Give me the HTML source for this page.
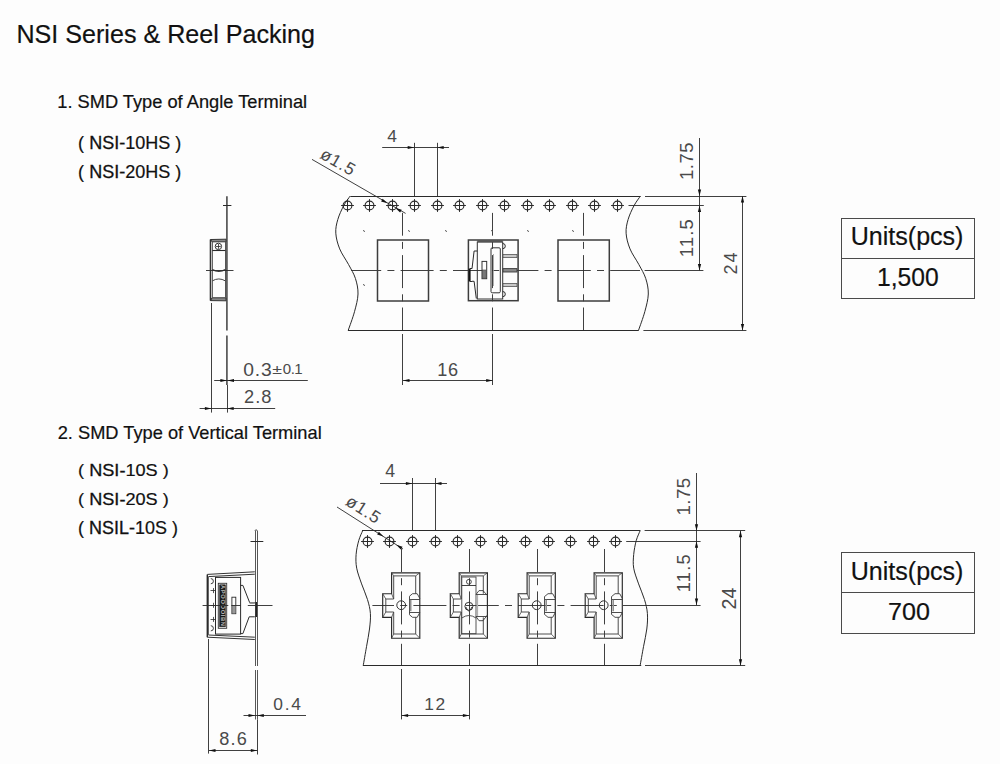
<!DOCTYPE html>
<html><head><meta charset="utf-8"><style>
html,body{margin:0;padding:0;background:#fdfdfd;width:1000px;height:764px;overflow:hidden}
svg{display:block}
text{font-family:"Liberation Sans",sans-serif}
</style></head><body>
<svg width="1000" height="764" viewBox="0 0 1000 764">
<rect width="1000" height="764" fill="#fdfdfd"/>
<text transform="translate(16.49,42.50) scale(0.9624,1)" font-size="26.09" fill="#111" stroke="#111" stroke-width="0.2">NSI Series &amp; Reel Packing</text>
<text transform="translate(57.23,107.90) scale(0.9999,1)" font-size="18.26" fill="#111" stroke="#111" stroke-width="0.2">1. SMD Type of Angle Terminal</text>
<text transform="translate(78.12,148.90) scale(1.0036,1)" font-size="17.97" fill="#111" stroke="#111" stroke-width="0.2">( <tspan stroke="#111" stroke-width="0.3">NSI-</tspan>10HS )</text>
<text transform="translate(78.12,177.60) scale(1.0036,1)" font-size="17.97" fill="#111" stroke="#111" stroke-width="0.2">( <tspan stroke="#111" stroke-width="0.3">NSI-</tspan>20HS )</text>
<text transform="translate(57.69,439.00) scale(0.9846,1)" font-size="18.55" fill="#111" stroke="#111" stroke-width="0.2">2. SMD Type of Vertical Terminal</text>
<text transform="translate(78.11,475.70) scale(1.0428,1)" font-size="17.39" fill="#111" stroke="#111" stroke-width="0.2">( <tspan stroke="#111" stroke-width="0.3">NSI-</tspan>10S )</text>
<text transform="translate(78.11,505.00) scale(1.0428,1)" font-size="17.39" fill="#111" stroke="#111" stroke-width="0.2">( <tspan stroke="#111" stroke-width="0.3">NSI-</tspan>20S )</text>
<text transform="translate(78.12,533.80) scale(1.0240,1)" font-size="17.54" fill="#111" stroke="#111" stroke-width="0.2">( <tspan stroke="#111" stroke-width="0.3">NSIL-</tspan>10S )</text>
<rect x="841.50" y="218.50" width="133.00" height="80.00" stroke="#4a4a4a" stroke-width="1.0" fill="none"/>
<line x1="841.20" y1="258.50" x2="974.20" y2="258.50" stroke="#4a4a4a" stroke-width="1.0"/>
<text transform="translate(850.72,245.40) scale(0.9715,1)" font-size="25.80" fill="#111" stroke="#111" stroke-width="0.2">Units(pcs)</text>
<text transform="translate(876.95,286.40) scale(0.9245,1)" font-size="26.67" fill="#111" stroke="#111" stroke-width="0.2">1,500</text>
<rect x="841.50" y="552.50" width="133.00" height="81.00" stroke="#4a4a4a" stroke-width="1.0" fill="none"/>
<line x1="841.20" y1="592.50" x2="974.20" y2="592.50" stroke="#4a4a4a" stroke-width="1.0"/>
<text transform="translate(850.72,579.90) scale(0.9715,1)" font-size="25.80" fill="#111" stroke="#111" stroke-width="0.2">Units(pcs)</text>
<text transform="translate(888.04,619.60) scale(1.0709,1)" font-size="23.48" fill="#111" stroke="#111" stroke-width="0.2">700</text>
<line x1="226.90" y1="196.30" x2="226.90" y2="330.50" stroke="#555" stroke-width="1.7"/>
<line x1="226.90" y1="335.60" x2="226.90" y2="385.00" stroke="#555" stroke-width="1.7"/>
<line x1="227.50" y1="385.00" x2="227.50" y2="412.60" stroke="#2a2a2a" stroke-width="0.9"/>
<line x1="223.00" y1="205.50" x2="231.40" y2="205.50" stroke="#2a2a2a" stroke-width="1"/>
<path d="M210.5,239.5 L226,239.2 L226,241.8 L212,241.8 Z" stroke="#333" stroke-width="1" fill="#888" />
<path d="M210.5,300.6 L226,300.8 L226,297.8 L212,297.8 Z" stroke="#333" stroke-width="1" fill="#888" />
<line x1="210.50" y1="239.50" x2="210.50" y2="300.60" stroke="#333" stroke-width="1.6"/>
<line x1="212.50" y1="241.80" x2="212.50" y2="297.80" stroke="#555" stroke-width="0.9"/>
<line x1="225.50" y1="241.80" x2="225.50" y2="297.80" stroke="#555" stroke-width="1.0"/>
<line x1="212.30" y1="250.50" x2="225.40" y2="250.50" stroke="#2a2a2a" stroke-width="1.1"/>
<circle cx="218.4" cy="246.4" r="3.2" stroke="#333" stroke-width="1" fill="none"/>
<line x1="218.50" y1="244.00" x2="218.50" y2="248.80" stroke="#2a2a2a" stroke-width="0.8"/>
<line x1="216.00" y1="246.50" x2="220.80" y2="246.50" stroke="#2a2a2a" stroke-width="0.8"/>
<path d="M212.3,269.6 Q218.8,273 225.4,269.6" stroke="#333" stroke-width="1.4" fill="none" />
<path d="M212.3,280.9 Q218.8,277 225.4,280.9" stroke="#444" stroke-width="1.0" fill="none" />
<line x1="206.00" y1="270.50" x2="233.50" y2="270.50" stroke="#2a2a2a" stroke-width="0.9"/>
<line x1="211.50" y1="303.00" x2="211.50" y2="412.60" stroke="#2a2a2a" stroke-width="0.9"/>
<line x1="214.20" y1="380.50" x2="307.80" y2="380.50" stroke="#2a2a2a" stroke-width="0.9"/>
<polygon points="226.90,380.50 220.40,382.10 220.40,378.90" fill="#111"/>
<polygon points="227.50,380.50 234.00,378.90 234.00,382.10" fill="#111"/>
<line x1="199.60" y1="408.50" x2="275.20" y2="408.50" stroke="#2a2a2a" stroke-width="0.9"/>
<polygon points="211.40,408.50 204.90,410.10 204.90,406.90" fill="#111"/>
<polygon points="227.20,408.50 233.70,406.90 233.70,410.10" fill="#111"/>
<text x="243.33" y="375.90" font-size="19.28" letter-spacing="0.77" fill="#4a4a4a">0.3</text>
<text transform="translate(272.37,374.40) scale(1.3967,1)" font-size="12.71" fill="#4a4a4a" stroke="#4a4a4a" stroke-width="0">±</text>
<text x="282.80" y="374.40" font-size="15.07" letter-spacing="-0.50" fill="#4a4a4a">0.1</text>
<text x="243.89" y="402.90" font-size="18.26" letter-spacing="1.13" fill="#4a4a4a">2.8</text>
<line x1="350.40" y1="196.50" x2="640.50" y2="196.50" stroke="#2a2a2a" stroke-width="1.0"/>
<line x1="348.00" y1="330.50" x2="638.70" y2="330.50" stroke="#2a2a2a" stroke-width="1.0"/>
<path d="M350.10,196.10 C349.03,197.70 345.75,201.80 343.70,205.70 C341.65,209.60 339.12,214.92 337.80,219.50 C336.48,224.08 335.48,228.30 335.80,233.20 C336.12,238.10 337.57,243.67 339.70,248.90 C341.83,254.13 345.98,259.68 348.60,264.60 C351.22,269.52 353.83,273.50 355.40,278.40 C356.97,283.30 358.15,288.45 358.00,294.00 C357.85,299.55 356.13,305.63 354.50,311.70 C352.87,317.77 349.25,327.28 348.20,330.40" stroke="#2a2a2a" stroke-width="1.0" fill="none" />
<path d="M640.40,196.10 C639.33,197.70 636.05,201.80 634.00,205.70 C631.95,209.60 629.42,214.92 628.10,219.50 C626.78,224.08 625.78,228.30 626.10,233.20 C626.42,238.10 627.87,243.67 630.00,248.90 C632.13,254.13 636.28,259.68 638.90,264.60 C641.52,269.52 644.13,273.50 645.70,278.40 C647.27,283.30 648.45,288.45 648.30,294.00 C648.15,299.55 646.43,305.63 644.80,311.70 C643.17,317.77 639.55,327.28 638.50,330.40" stroke="#2a2a2a" stroke-width="1.0" fill="none" />
<circle cx="347.50" cy="205.50" r="4.4" stroke="#2a2a2a" stroke-width="1.1" fill="none"/>
<line x1="341.10" y1="205.50" x2="353.90" y2="205.50" stroke="#2a2a2a" stroke-width="1.0"/>
<line x1="347.50" y1="199.10" x2="347.50" y2="211.90" stroke="#2a2a2a" stroke-width="1.0"/>
<circle cx="369.50" cy="205.50" r="4.4" stroke="#2a2a2a" stroke-width="1.1" fill="none"/>
<line x1="363.10" y1="205.50" x2="375.90" y2="205.50" stroke="#2a2a2a" stroke-width="1.0"/>
<line x1="369.50" y1="199.10" x2="369.50" y2="211.90" stroke="#2a2a2a" stroke-width="1.0"/>
<circle cx="392.50" cy="205.50" r="4.4" stroke="#2a2a2a" stroke-width="1.1" fill="none"/>
<line x1="386.10" y1="205.50" x2="398.90" y2="205.50" stroke="#2a2a2a" stroke-width="1.0"/>
<line x1="392.50" y1="199.10" x2="392.50" y2="211.90" stroke="#2a2a2a" stroke-width="1.0"/>
<circle cx="414.50" cy="205.50" r="4.4" stroke="#2a2a2a" stroke-width="1.1" fill="none"/>
<line x1="408.10" y1="205.50" x2="420.90" y2="205.50" stroke="#2a2a2a" stroke-width="1.0"/>
<line x1="414.50" y1="199.10" x2="414.50" y2="211.90" stroke="#2a2a2a" stroke-width="1.0"/>
<circle cx="437.50" cy="205.50" r="4.4" stroke="#2a2a2a" stroke-width="1.1" fill="none"/>
<line x1="431.10" y1="205.50" x2="443.90" y2="205.50" stroke="#2a2a2a" stroke-width="1.0"/>
<line x1="437.50" y1="199.10" x2="437.50" y2="211.90" stroke="#2a2a2a" stroke-width="1.0"/>
<circle cx="459.50" cy="205.50" r="4.4" stroke="#2a2a2a" stroke-width="1.1" fill="none"/>
<line x1="453.10" y1="205.50" x2="465.90" y2="205.50" stroke="#2a2a2a" stroke-width="1.0"/>
<line x1="459.50" y1="199.10" x2="459.50" y2="211.90" stroke="#2a2a2a" stroke-width="1.0"/>
<circle cx="482.50" cy="205.50" r="4.4" stroke="#2a2a2a" stroke-width="1.1" fill="none"/>
<line x1="476.10" y1="205.50" x2="488.90" y2="205.50" stroke="#2a2a2a" stroke-width="1.0"/>
<line x1="482.50" y1="199.10" x2="482.50" y2="211.90" stroke="#2a2a2a" stroke-width="1.0"/>
<circle cx="504.50" cy="205.50" r="4.4" stroke="#2a2a2a" stroke-width="1.1" fill="none"/>
<line x1="498.10" y1="205.50" x2="510.90" y2="205.50" stroke="#2a2a2a" stroke-width="1.0"/>
<line x1="504.50" y1="199.10" x2="504.50" y2="211.90" stroke="#2a2a2a" stroke-width="1.0"/>
<circle cx="527.50" cy="205.50" r="4.4" stroke="#2a2a2a" stroke-width="1.1" fill="none"/>
<line x1="521.10" y1="205.50" x2="533.90" y2="205.50" stroke="#2a2a2a" stroke-width="1.0"/>
<line x1="527.50" y1="199.10" x2="527.50" y2="211.90" stroke="#2a2a2a" stroke-width="1.0"/>
<circle cx="549.50" cy="205.50" r="4.4" stroke="#2a2a2a" stroke-width="1.1" fill="none"/>
<line x1="543.10" y1="205.50" x2="555.90" y2="205.50" stroke="#2a2a2a" stroke-width="1.0"/>
<line x1="549.50" y1="199.10" x2="549.50" y2="211.90" stroke="#2a2a2a" stroke-width="1.0"/>
<circle cx="572.50" cy="205.50" r="4.4" stroke="#2a2a2a" stroke-width="1.1" fill="none"/>
<line x1="566.10" y1="205.50" x2="578.90" y2="205.50" stroke="#2a2a2a" stroke-width="1.0"/>
<line x1="572.50" y1="199.10" x2="572.50" y2="211.90" stroke="#2a2a2a" stroke-width="1.0"/>
<circle cx="594.50" cy="205.50" r="4.4" stroke="#2a2a2a" stroke-width="1.1" fill="none"/>
<line x1="588.10" y1="205.50" x2="600.90" y2="205.50" stroke="#2a2a2a" stroke-width="1.0"/>
<line x1="594.50" y1="199.10" x2="594.50" y2="211.90" stroke="#2a2a2a" stroke-width="1.0"/>
<circle cx="617.50" cy="205.50" r="4.4" stroke="#2a2a2a" stroke-width="1.1" fill="none"/>
<line x1="611.10" y1="205.50" x2="623.90" y2="205.50" stroke="#2a2a2a" stroke-width="1.0"/>
<line x1="617.50" y1="199.10" x2="617.50" y2="211.90" stroke="#2a2a2a" stroke-width="1.0"/>
<line x1="628.50" y1="205.50" x2="703.80" y2="205.50" stroke="#2a2a2a" stroke-width="0.9"/>
<line x1="645.00" y1="196.50" x2="746.40" y2="196.50" stroke="#2a2a2a" stroke-width="0.9"/>
<line x1="643.40" y1="330.50" x2="746.40" y2="330.50" stroke="#2a2a2a" stroke-width="0.9"/>
<line x1="351.2" y1="270.5" x2="640" y2="270.5" stroke="#2a2a2a" stroke-width="0.9" stroke-dasharray="33 6.2 7 6.2" stroke-dashoffset="3"/>
<line x1="644.60" y1="270.50" x2="703.40" y2="270.50" stroke="#2a2a2a" stroke-width="0.9"/>
<line x1="402.5" y1="212.9" x2="402.5" y2="330.4" stroke="#2a2a2a" stroke-width="0.9" stroke-dasharray="33 6.2 7 6.2" stroke-dashoffset="10.2"/>
<line x1="402.50" y1="334.00" x2="402.50" y2="385.00" stroke="#2a2a2a" stroke-width="0.9"/>
<line x1="492.5" y1="212.9" x2="492.5" y2="330.4" stroke="#2a2a2a" stroke-width="0.9" stroke-dasharray="33 6.2 7 6.2" stroke-dashoffset="10.2"/>
<line x1="492.50" y1="334.00" x2="492.50" y2="385.00" stroke="#2a2a2a" stroke-width="0.9"/>
<line x1="583.5" y1="212.9" x2="583.5" y2="330.4" stroke="#2a2a2a" stroke-width="0.9" stroke-dasharray="33 6.2 7 6.2" stroke-dashoffset="10.2"/>
<rect x="377.50" y="240.00" width="51.00" height="61.00" stroke="#3d3d3d" stroke-width="1.5" fill="none"/>
<rect x="558.00" y="240.00" width="51.30" height="61.00" stroke="#3d3d3d" stroke-width="1.5" fill="none"/>
<rect x="468.40" y="240.00" width="49.70" height="60.70" stroke="#3d3d3d" stroke-width="1.5" fill="none"/>
<rect x="477.30" y="242.00" width="25.40" height="57.00" stroke="#333" stroke-width="1.0" fill="none"/>
<line x1="477.30" y1="241.20" x2="502.70" y2="241.20" stroke="#555" stroke-width="2.2"/>
<rect x="491" y="247.8" width="9.3" height="45" rx="1.2" stroke="#333" stroke-width="1" fill="none"/>
<line x1="493.50" y1="254.00" x2="493.50" y2="286.00" stroke="#999" stroke-width="0.8"/>
<rect x="482.00" y="261.40" width="4.70" height="17.30" stroke="#333" stroke-width="1.0" fill="none"/>
<rect x="482.50" y="270.00" width="3.70" height="8.20" stroke="#444" stroke-width="0.6" fill="#777"/>
<rect x="503.00" y="254.40" width="14.00" height="3.20" stroke="#555" stroke-width="0.8" fill="#c8c8c8"/>
<rect x="503.00" y="283.40" width="14.00" height="3.20" stroke="#555" stroke-width="0.8" fill="#c8c8c8"/>
<rect x="503.00" y="268.60" width="14.00" height="3.40" stroke="#3a3a3a" stroke-width="0.9" fill="#8a8a8a"/>
<path d="M502.7,243.5 A2.6,2.6 0 0 1 502.7,248.7" stroke="#2a2a2a" stroke-width="1.0" fill="none" />
<path d="M502.7,291.5 A2.6,2.6 0 0 1 502.7,296.7" stroke="#2a2a2a" stroke-width="1.0" fill="none" />
<path d="M477.3,251 L474.1,251 L472,268.7" stroke="#2a2a2a" stroke-width="1.0" fill="none" />
<path d="M472,281.3 L474.1,281.3 L476.3,298.5" stroke="#2a2a2a" stroke-width="1.0" fill="none" />
<line x1="469.60" y1="268.70" x2="469.60" y2="281.30" stroke="#111" stroke-width="2.0"/>
<line x1="469.60" y1="268.50" x2="472.00" y2="268.50" stroke="#2a2a2a" stroke-width="1"/>
<line x1="469.60" y1="281.50" x2="472.00" y2="281.50" stroke="#2a2a2a" stroke-width="1"/>
<line x1="363.00" y1="230.40" x2="365.00" y2="231.60" stroke="#555" stroke-width="1.0"/>
<line x1="408.00" y1="230.40" x2="410.00" y2="231.60" stroke="#555" stroke-width="1.0"/>
<line x1="445.00" y1="230.40" x2="447.00" y2="231.60" stroke="#555" stroke-width="1.0"/>
<line x1="491.00" y1="230.40" x2="493.00" y2="231.60" stroke="#555" stroke-width="1.0"/>
<line x1="527.00" y1="230.40" x2="529.00" y2="231.60" stroke="#555" stroke-width="1.0"/>
<line x1="572.00" y1="230.40" x2="574.00" y2="231.60" stroke="#555" stroke-width="1.0"/>
<line x1="363.00" y1="284.40" x2="365.00" y2="285.60" stroke="#555" stroke-width="1.0"/>
<line x1="382.20" y1="147.50" x2="449.00" y2="147.50" stroke="#2a2a2a" stroke-width="0.9"/>
<line x1="414.50" y1="142.80" x2="414.50" y2="196.10" stroke="#2a2a2a" stroke-width="0.9"/>
<line x1="437.50" y1="142.80" x2="437.50" y2="196.10" stroke="#2a2a2a" stroke-width="0.9"/>
<polygon points="414.20,147.50 407.70,149.10 407.70,145.90" fill="#111"/>
<polygon points="437.20,147.50 443.70,145.90 443.70,149.10" fill="#111"/>
<text x="387.37" y="141.60" font-size="17.39" letter-spacing="0.00" fill="#4a4a4a">4</text>
<line x1="312.00" y1="159.40" x2="405.60" y2="213.40" stroke="#2a2a2a" stroke-width="0.9"/>
<polygon points="387.50,203.30 381.07,201.44 382.67,198.66" fill="#111"/>
<polygon points="395.30,207.90 401.73,209.76 400.13,212.54" fill="#111"/>
<text transform="translate(318.9,157.6) rotate(30)" font-size="17.2" letter-spacing="0.9" fill="#4a4a4a">ø1.5</text>
<line x1="403.00" y1="380.50" x2="492.70" y2="380.50" stroke="#2a2a2a" stroke-width="0.9"/>
<polygon points="403.00,380.50 409.50,378.90 409.50,382.10" fill="#111"/>
<polygon points="492.70,380.50 486.20,382.10 486.20,378.90" fill="#111"/>
<text x="437.14" y="375.50" font-size="18.12" letter-spacing="0.87" fill="#4a4a4a">16</text>
<line x1="699.50" y1="138.00" x2="699.50" y2="270.50" stroke="#2a2a2a" stroke-width="0.9"/>
<polygon points="699.50,196.10 697.90,189.60 701.10,189.60" fill="#111"/>
<polygon points="699.50,205.60 701.10,212.10 697.90,212.10" fill="#111"/>
<polygon points="699.50,270.50 697.90,264.00 701.10,264.00" fill="#111"/>
<line x1="742.50" y1="196.10" x2="742.50" y2="330.40" stroke="#2a2a2a" stroke-width="0.9"/>
<polygon points="742.50,196.10 744.10,202.60 740.90,202.60" fill="#111"/>
<polygon points="742.50,330.40 740.90,323.90 744.10,323.90" fill="#111"/>
<text transform="translate(693.40,179.89) rotate(-90)" x="0" y="0" font-size="18.55" letter-spacing="0.45" fill="#4a4a4a">1.75</text>
<text transform="translate(693.40,257.19) rotate(-90)" x="0" y="0" font-size="18.55" letter-spacing="1.08" fill="#4a4a4a">11.5</text>
<text transform="translate(736.50,274.60) rotate(-90)" x="0" y="0" font-size="17.97" letter-spacing="2.19" fill="#4a4a4a">24</text>
<line x1="255.50" y1="531.00" x2="255.50" y2="666.00" stroke="#444" stroke-width="0.9"/>
<line x1="257.50" y1="531.00" x2="257.50" y2="666.00" stroke="#444" stroke-width="0.9"/>
<path d="M255,531 A1.15,1.15 0 0 1 257.3,531" stroke="#444" stroke-width="0.9" fill="none"/>
<line x1="255.50" y1="670.00" x2="255.50" y2="719.50" stroke="#444" stroke-width="0.9"/>
<line x1="257.50" y1="670.00" x2="257.50" y2="719.50" stroke="#444" stroke-width="0.9"/>
<line x1="257.50" y1="719.50" x2="257.50" y2="754.50" stroke="#2a2a2a" stroke-width="0.9"/>
<line x1="250.50" y1="541.50" x2="263.30" y2="541.50" stroke="#2a2a2a" stroke-width="1"/>
<path d="M207.3,574.4 L254.8,571.8 M208.5,576.6 L254.8,574.2" stroke="#333" stroke-width="1.0" fill="none" />
<path d="M207.3,637.2 L254.8,639.5 M208.5,635 L254.8,637.2" stroke="#333" stroke-width="1.0" fill="none" />
<line x1="207.30" y1="574.40" x2="207.30" y2="637.20" stroke="#2a2a2a" stroke-width="1.4"/>
<line x1="208.50" y1="576.60" x2="208.50" y2="635.00" stroke="#555" stroke-width="0.9"/>
<rect x="215.50" y="577.40" width="25.10" height="56.70" stroke="#2a2a2a" stroke-width="1.0" fill="none"/>
<path d="M210.8,578.6 A2.6,2.6 0 0 1 210.8,583.8000000000001" stroke="#2a2a2a" stroke-width="0.9" fill="none" />
<path d="M210.8,625.6999999999999 A2.6,2.6 0 0 1 210.8,630.9" stroke="#2a2a2a" stroke-width="0.9" fill="none" />
<line x1="210.50" y1="590.50" x2="215.50" y2="590.50" stroke="#2a2a2a" stroke-width="0.8"/>
<line x1="213.50" y1="588.10" x2="213.50" y2="593.10" stroke="#2a2a2a" stroke-width="0.8"/>
<line x1="210.50" y1="605.50" x2="215.50" y2="605.50" stroke="#2a2a2a" stroke-width="0.8"/>
<line x1="213.50" y1="602.80" x2="213.50" y2="607.80" stroke="#2a2a2a" stroke-width="0.8"/>
<line x1="210.50" y1="619.50" x2="215.50" y2="619.50" stroke="#2a2a2a" stroke-width="0.8"/>
<line x1="213.50" y1="616.90" x2="213.50" y2="621.90" stroke="#2a2a2a" stroke-width="0.8"/>
<rect x="218.30" y="583.30" width="8.40" height="45.00" stroke="#333" stroke-width="0.9" fill="none"/>
<rect x="219.70" y="584.80" width="5.60" height="42.00" stroke="#222" stroke-width="0.6" fill="#1a1a1a"/>
<text transform="translate(220.6,605.8) rotate(90)" font-size="5.8" fill="#bbb" text-anchor="middle" letter-spacing="0.6" font-weight="bold">APOOOOIBN</text>
<rect x="231.90" y="597.20" width="3.90" height="16.50" stroke="#2a2a2a" stroke-width="0.9" fill="none"/>
<rect x="232.30" y="605.50" width="3.10" height="7.80" stroke="#666" stroke-width="0.5" fill="#999"/>
<path d="M240.6,585.4 L242.9,585.4 L249.7,602.7 L254.8,602.7" stroke="#2a2a2a" stroke-width="1.0" fill="none" />
<path d="M254.8,616.8 L249.2,616.8 L242.9,633.6 L240.6,633.6" stroke="#2a2a2a" stroke-width="1.0" fill="none" />
<line x1="249.70" y1="602.90" x2="254.80" y2="602.90" stroke="#888" stroke-width="1.8"/>
<line x1="256.20" y1="602.00" x2="256.20" y2="617.00" stroke="#222" stroke-width="1.6"/>
<line x1="202.6" y1="605.5" x2="272.5" y2="605.5" stroke="#2a2a2a" stroke-width="0.9" stroke-dasharray="25.7 3 9.5 7" />
<line x1="208.50" y1="639.00" x2="208.50" y2="753.60" stroke="#2a2a2a" stroke-width="0.9"/>
<line x1="243.50" y1="715.50" x2="306.00" y2="715.50" stroke="#2a2a2a" stroke-width="0.9"/>
<polygon points="255.00,715.50 248.50,717.10 248.50,713.90" fill="#111"/>
<polygon points="257.30,715.50 263.80,713.90 263.80,717.10" fill="#111"/>
<text x="273.30" y="710.00" font-size="17.39" letter-spacing="1.77" fill="#4a4a4a">0.4</text>
<line x1="209.00" y1="750.50" x2="257.30" y2="750.50" stroke="#2a2a2a" stroke-width="0.9"/>
<polygon points="209.00,750.50 215.50,748.90 215.50,752.10" fill="#111"/>
<polygon points="257.30,750.50 250.80,752.10 250.80,748.90" fill="#111"/>
<text x="219.18" y="745.00" font-size="18.12" letter-spacing="1.22" fill="#4a4a4a">8.6</text>
<line x1="362.00" y1="530.50" x2="640.40" y2="530.50" stroke="#2a2a2a" stroke-width="1.0"/>
<line x1="363.00" y1="665.50" x2="641.20" y2="665.50" stroke="#2a2a2a" stroke-width="1.0"/>
<path d="M362.60,530.80 C361.95,532.45 359.78,536.75 358.70,540.70 C357.62,544.65 356.43,549.92 356.10,554.50 C355.77,559.08 355.78,563.30 356.70,568.20 C357.62,573.10 359.80,578.67 361.60,583.90 C363.40,589.13 366.03,594.68 367.50,599.60 C368.97,604.52 370.07,608.50 370.40,613.40 C370.73,618.30 370.15,623.45 369.50,629.00 C368.85,634.55 367.55,640.58 366.50,646.70 C365.45,652.82 363.75,662.53 363.20,665.70" stroke="#2a2a2a" stroke-width="1.0" fill="none" />
<path d="M640.10,530.80 C639.45,532.45 637.27,536.75 636.20,540.70 C635.13,544.65 634.12,549.92 633.70,554.50 C633.28,559.08 632.88,563.30 633.70,568.20 C634.52,573.10 636.80,578.67 638.60,583.90 C640.40,589.13 643.03,594.68 644.50,599.60 C645.97,604.52 647.02,608.50 647.40,613.40 C647.78,618.30 647.45,623.45 646.80,629.00 C646.15,634.55 644.62,640.58 643.50,646.70 C642.38,652.82 640.67,662.53 640.10,665.70" stroke="#2a2a2a" stroke-width="1.0" fill="none" />
<circle cx="367.50" cy="541.50" r="4.4" stroke="#2a2a2a" stroke-width="1.1" fill="none"/>
<line x1="361.10" y1="541.50" x2="373.90" y2="541.50" stroke="#2a2a2a" stroke-width="1.0"/>
<line x1="367.50" y1="535.10" x2="367.50" y2="547.90" stroke="#2a2a2a" stroke-width="1.0"/>
<circle cx="389.50" cy="541.50" r="4.4" stroke="#2a2a2a" stroke-width="1.1" fill="none"/>
<line x1="383.10" y1="541.50" x2="395.90" y2="541.50" stroke="#2a2a2a" stroke-width="1.0"/>
<line x1="389.50" y1="535.10" x2="389.50" y2="547.90" stroke="#2a2a2a" stroke-width="1.0"/>
<circle cx="412.50" cy="541.50" r="4.4" stroke="#2a2a2a" stroke-width="1.1" fill="none"/>
<line x1="406.10" y1="541.50" x2="418.90" y2="541.50" stroke="#2a2a2a" stroke-width="1.0"/>
<line x1="412.50" y1="535.10" x2="412.50" y2="547.90" stroke="#2a2a2a" stroke-width="1.0"/>
<circle cx="435.50" cy="541.50" r="4.4" stroke="#2a2a2a" stroke-width="1.1" fill="none"/>
<line x1="429.10" y1="541.50" x2="441.90" y2="541.50" stroke="#2a2a2a" stroke-width="1.0"/>
<line x1="435.50" y1="535.10" x2="435.50" y2="547.90" stroke="#2a2a2a" stroke-width="1.0"/>
<circle cx="457.50" cy="541.50" r="4.4" stroke="#2a2a2a" stroke-width="1.1" fill="none"/>
<line x1="451.10" y1="541.50" x2="463.90" y2="541.50" stroke="#2a2a2a" stroke-width="1.0"/>
<line x1="457.50" y1="535.10" x2="457.50" y2="547.90" stroke="#2a2a2a" stroke-width="1.0"/>
<circle cx="480.50" cy="541.50" r="4.4" stroke="#2a2a2a" stroke-width="1.1" fill="none"/>
<line x1="474.10" y1="541.50" x2="486.90" y2="541.50" stroke="#2a2a2a" stroke-width="1.0"/>
<line x1="480.50" y1="535.10" x2="480.50" y2="547.90" stroke="#2a2a2a" stroke-width="1.0"/>
<circle cx="502.50" cy="541.50" r="4.4" stroke="#2a2a2a" stroke-width="1.1" fill="none"/>
<line x1="496.10" y1="541.50" x2="508.90" y2="541.50" stroke="#2a2a2a" stroke-width="1.0"/>
<line x1="502.50" y1="535.10" x2="502.50" y2="547.90" stroke="#2a2a2a" stroke-width="1.0"/>
<circle cx="525.50" cy="541.50" r="4.4" stroke="#2a2a2a" stroke-width="1.1" fill="none"/>
<line x1="519.10" y1="541.50" x2="531.90" y2="541.50" stroke="#2a2a2a" stroke-width="1.0"/>
<line x1="525.50" y1="535.10" x2="525.50" y2="547.90" stroke="#2a2a2a" stroke-width="1.0"/>
<circle cx="548.50" cy="541.50" r="4.4" stroke="#2a2a2a" stroke-width="1.1" fill="none"/>
<line x1="542.10" y1="541.50" x2="554.90" y2="541.50" stroke="#2a2a2a" stroke-width="1.0"/>
<line x1="548.50" y1="535.10" x2="548.50" y2="547.90" stroke="#2a2a2a" stroke-width="1.0"/>
<circle cx="570.50" cy="541.50" r="4.4" stroke="#2a2a2a" stroke-width="1.1" fill="none"/>
<line x1="564.10" y1="541.50" x2="576.90" y2="541.50" stroke="#2a2a2a" stroke-width="1.0"/>
<line x1="570.50" y1="535.10" x2="570.50" y2="547.90" stroke="#2a2a2a" stroke-width="1.0"/>
<circle cx="593.50" cy="541.50" r="4.4" stroke="#2a2a2a" stroke-width="1.1" fill="none"/>
<line x1="587.10" y1="541.50" x2="599.90" y2="541.50" stroke="#2a2a2a" stroke-width="1.0"/>
<line x1="593.50" y1="535.10" x2="593.50" y2="547.90" stroke="#2a2a2a" stroke-width="1.0"/>
<circle cx="615.50" cy="541.50" r="4.4" stroke="#2a2a2a" stroke-width="1.1" fill="none"/>
<line x1="609.10" y1="541.50" x2="621.90" y2="541.50" stroke="#2a2a2a" stroke-width="1.0"/>
<line x1="615.50" y1="535.10" x2="615.50" y2="547.90" stroke="#2a2a2a" stroke-width="1.0"/>
<line x1="626.20" y1="541.50" x2="700.60" y2="541.50" stroke="#2a2a2a" stroke-width="0.9"/>
<line x1="644.60" y1="530.50" x2="745.20" y2="530.50" stroke="#2a2a2a" stroke-width="0.9"/>
<line x1="645.00" y1="665.50" x2="745.20" y2="665.50" stroke="#2a2a2a" stroke-width="0.9"/>
<line x1="372.4" y1="605.5" x2="622.9" y2="605.5" stroke="#2a2a2a" stroke-width="0.9" stroke-dasharray="33 6.2 7 6.2" stroke-dashoffset="11.4"/>
<line x1="622.90" y1="605.50" x2="700.60" y2="605.50" stroke="#2a2a2a" stroke-width="0.9"/>
<line x1="401.5" y1="549" x2="401.5" y2="665.7" stroke="#2a2a2a" stroke-width="0.9" stroke-dasharray="33 6.2 7 6.2" stroke-dashoffset="10"/>
<line x1="401.50" y1="669.00" x2="401.50" y2="719.40" stroke="#2a2a2a" stroke-width="0.9"/>
<line x1="469.5" y1="549" x2="469.5" y2="665.7" stroke="#2a2a2a" stroke-width="0.9" stroke-dasharray="33 6.2 7 6.2" stroke-dashoffset="10"/>
<line x1="469.50" y1="669.00" x2="469.50" y2="719.40" stroke="#2a2a2a" stroke-width="0.9"/>
<line x1="537.5" y1="549" x2="537.5" y2="665.7" stroke="#2a2a2a" stroke-width="0.9" stroke-dasharray="33 6.2 7 6.2" stroke-dashoffset="10"/>
<line x1="604.5" y1="549" x2="604.5" y2="665.7" stroke="#2a2a2a" stroke-width="0.9" stroke-dasharray="33 6.2 7 6.2" stroke-dashoffset="10"/>
<path d="M391.6,572.8 L419.8,572.8 L419.8,638.2 L391.6,638.2 L391.6,617.3 L382.70000000000005,617.3 L382.70000000000005,593.7 L391.6,593.7 Z" stroke="#2a2a2a" stroke-width="1.15" fill="none" />
<path d="M415.70000000000005,593.7 L415.70000000000005,575.9 L393.70000000000005,575.9 L393.70000000000005,599.0 L385.8,599.0 L385.8,612.0 L393.70000000000005,612.0 L393.70000000000005,634.0 L415.70000000000005,634.0 L415.70000000000005,617.3" stroke="#3a3a3a" stroke-width="0.9" fill="none" />
<line x1="391.60" y1="572.80" x2="393.70" y2="575.90" stroke="#444" stroke-width="0.8"/>
<line x1="419.80" y1="572.80" x2="415.70" y2="575.90" stroke="#444" stroke-width="0.8"/>
<line x1="419.80" y1="638.20" x2="415.70" y2="634.00" stroke="#444" stroke-width="0.8"/>
<line x1="391.60" y1="638.20" x2="393.70" y2="634.00" stroke="#444" stroke-width="0.8"/>
<line x1="382.70" y1="593.70" x2="385.80" y2="599.00" stroke="#444" stroke-width="0.8"/>
<line x1="382.70" y1="617.30" x2="385.80" y2="612.00" stroke="#444" stroke-width="0.8"/>
<line x1="391.60" y1="593.70" x2="393.70" y2="599.00" stroke="#444" stroke-width="0.8"/>
<line x1="391.60" y1="617.30" x2="393.70" y2="612.00" stroke="#444" stroke-width="0.8"/>
<path d="M409.40000000000003,596.3000000000001 L412.50000000000006,593.7 L417.20000000000005,593.7 L419.8,598.4" stroke="#3a3a3a" stroke-width="0.9" fill="none" />
<path d="M409.40000000000003,614.6999999999999 L412.50000000000006,617.3 L417.20000000000005,617.3 L419.8,612.6" stroke="#3a3a3a" stroke-width="0.9" fill="none" />
<line x1="409.40" y1="599.50" x2="419.80" y2="599.50" stroke="#3a3a3a" stroke-width="0.9"/>
<line x1="409.40" y1="612.50" x2="419.80" y2="612.50" stroke="#3a3a3a" stroke-width="0.9"/>
<line x1="409.50" y1="596.30" x2="409.50" y2="614.70" stroke="#3a3a3a" stroke-width="0.9"/>
<line x1="410.70" y1="599.80" x2="410.70" y2="611.20" stroke="#909090" stroke-width="1.6"/>
<circle cx="401.20000000000005" cy="605.2" r="4.4" stroke="#333" stroke-width="1" fill="none"/>
<path d="M527.1,572.8 L555.3000000000001,572.8 L555.3000000000001,638.2 L527.1,638.2 L527.1,617.3 L518.2,617.3 L518.2,593.7 L527.1,593.7 Z" stroke="#2a2a2a" stroke-width="1.15" fill="none" />
<path d="M551.2,593.7 L551.2,575.9 L529.2,575.9 L529.2,599.0 L521.3000000000001,599.0 L521.3000000000001,612.0 L529.2,612.0 L529.2,634.0 L551.2,634.0 L551.2,617.3" stroke="#3a3a3a" stroke-width="0.9" fill="none" />
<line x1="527.10" y1="572.80" x2="529.20" y2="575.90" stroke="#444" stroke-width="0.8"/>
<line x1="555.30" y1="572.80" x2="551.20" y2="575.90" stroke="#444" stroke-width="0.8"/>
<line x1="555.30" y1="638.20" x2="551.20" y2="634.00" stroke="#444" stroke-width="0.8"/>
<line x1="527.10" y1="638.20" x2="529.20" y2="634.00" stroke="#444" stroke-width="0.8"/>
<line x1="518.20" y1="593.70" x2="521.30" y2="599.00" stroke="#444" stroke-width="0.8"/>
<line x1="518.20" y1="617.30" x2="521.30" y2="612.00" stroke="#444" stroke-width="0.8"/>
<line x1="527.10" y1="593.70" x2="529.20" y2="599.00" stroke="#444" stroke-width="0.8"/>
<line x1="527.10" y1="617.30" x2="529.20" y2="612.00" stroke="#444" stroke-width="0.8"/>
<path d="M544.9,596.3000000000001 L548.0,593.7 L552.6999999999999,593.7 L555.3000000000001,598.4" stroke="#3a3a3a" stroke-width="0.9" fill="none" />
<path d="M544.9,614.6999999999999 L548.0,617.3 L552.6999999999999,617.3 L555.3000000000001,612.6" stroke="#3a3a3a" stroke-width="0.9" fill="none" />
<line x1="544.90" y1="599.50" x2="555.30" y2="599.50" stroke="#3a3a3a" stroke-width="0.9"/>
<line x1="544.90" y1="612.50" x2="555.30" y2="612.50" stroke="#3a3a3a" stroke-width="0.9"/>
<line x1="544.50" y1="596.30" x2="544.50" y2="614.70" stroke="#3a3a3a" stroke-width="0.9"/>
<line x1="546.20" y1="599.80" x2="546.20" y2="611.20" stroke="#909090" stroke-width="1.6"/>
<circle cx="536.7" cy="605.2" r="4.4" stroke="#333" stroke-width="1" fill="none"/>
<path d="M594.1,572.8 L622.3000000000001,572.8 L622.3000000000001,638.2 L594.1,638.2 L594.1,617.3 L585.2,617.3 L585.2,593.7 L594.1,593.7 Z" stroke="#2a2a2a" stroke-width="1.15" fill="none" />
<path d="M618.2,593.7 L618.2,575.9 L596.2,575.9 L596.2,599.0 L588.3000000000001,599.0 L588.3000000000001,612.0 L596.2,612.0 L596.2,634.0 L618.2,634.0 L618.2,617.3" stroke="#3a3a3a" stroke-width="0.9" fill="none" />
<line x1="594.10" y1="572.80" x2="596.20" y2="575.90" stroke="#444" stroke-width="0.8"/>
<line x1="622.30" y1="572.80" x2="618.20" y2="575.90" stroke="#444" stroke-width="0.8"/>
<line x1="622.30" y1="638.20" x2="618.20" y2="634.00" stroke="#444" stroke-width="0.8"/>
<line x1="594.10" y1="638.20" x2="596.20" y2="634.00" stroke="#444" stroke-width="0.8"/>
<line x1="585.20" y1="593.70" x2="588.30" y2="599.00" stroke="#444" stroke-width="0.8"/>
<line x1="585.20" y1="617.30" x2="588.30" y2="612.00" stroke="#444" stroke-width="0.8"/>
<line x1="594.10" y1="593.70" x2="596.20" y2="599.00" stroke="#444" stroke-width="0.8"/>
<line x1="594.10" y1="617.30" x2="596.20" y2="612.00" stroke="#444" stroke-width="0.8"/>
<path d="M611.9,596.3000000000001 L615.0,593.7 L619.6999999999999,593.7 L622.3000000000001,598.4" stroke="#3a3a3a" stroke-width="0.9" fill="none" />
<path d="M611.9,614.6999999999999 L615.0,617.3 L619.6999999999999,617.3 L622.3000000000001,612.6" stroke="#3a3a3a" stroke-width="0.9" fill="none" />
<line x1="611.90" y1="599.50" x2="622.30" y2="599.50" stroke="#3a3a3a" stroke-width="0.9"/>
<line x1="611.90" y1="612.50" x2="622.30" y2="612.50" stroke="#3a3a3a" stroke-width="0.9"/>
<line x1="611.50" y1="596.30" x2="611.50" y2="614.70" stroke="#3a3a3a" stroke-width="0.9"/>
<line x1="613.20" y1="599.80" x2="613.20" y2="611.20" stroke="#909090" stroke-width="1.6"/>
<circle cx="603.7" cy="605.2" r="4.4" stroke="#333" stroke-width="1" fill="none"/>
<path d="M459.2,572.8 L487.4,572.8 L487.4,638.2 L459.2,638.2 L459.2,617.3 L450.3,617.3 L450.3,593.7 L459.2,593.7 Z" stroke="#2a2a2a" stroke-width="1.15" fill="none" />
<path d="M483.3,593.7 L483.3,575.9 L461.3,575.9 L461.3,599.0 L453.4,599.0 L453.4,612.0 L461.3,612.0 L461.3,634.0 L483.3,634.0 L483.3,617.3" stroke="#3a3a3a" stroke-width="0.9" fill="none" />
<line x1="459.20" y1="572.80" x2="461.30" y2="575.90" stroke="#444" stroke-width="0.8"/>
<line x1="487.40" y1="572.80" x2="483.30" y2="575.90" stroke="#444" stroke-width="0.8"/>
<line x1="487.40" y1="638.20" x2="483.30" y2="634.00" stroke="#444" stroke-width="0.8"/>
<line x1="459.20" y1="638.20" x2="461.30" y2="634.00" stroke="#444" stroke-width="0.8"/>
<line x1="450.30" y1="593.70" x2="453.40" y2="599.00" stroke="#444" stroke-width="0.8"/>
<line x1="450.30" y1="617.30" x2="453.40" y2="612.00" stroke="#444" stroke-width="0.8"/>
<line x1="459.20" y1="593.70" x2="461.30" y2="599.00" stroke="#444" stroke-width="0.8"/>
<line x1="459.20" y1="617.30" x2="461.30" y2="612.00" stroke="#444" stroke-width="0.8"/>
<rect x="461.80" y="577.00" width="14.20" height="56.70" stroke="#444" stroke-width="0.9" fill="none"/>
<line x1="461.80" y1="585.50" x2="476.00" y2="585.50" stroke="#2a2a2a" stroke-width="0.9"/>
<circle cx="468.9" cy="581.8" r="2.4" stroke="#333" stroke-width="0.9" fill="none"/>
<circle cx="468.9" cy="606.3" r="4" stroke="#333" stroke-width="1" fill="none"/>
<path d="M465.9,607 Q468.9,615 471.9,607" stroke="#333" stroke-width="0.9" fill="none"/>
<path d="M461.8,618 Q468.9,613 476.0,618" stroke="#444" stroke-width="0.9" fill="none" />
<path d="M476.0,594.5 L479.0,590.6 L483.0,590.6 L487.4,595.5" stroke="#3a3a3a" stroke-width="0.9" fill="none" />
<path d="M476.0,616.5 L479.0,620.7 L483.0,620.7 L487.4,615" stroke="#3a3a3a" stroke-width="0.9" fill="none" />
<line x1="476.00" y1="594.50" x2="487.40" y2="594.50" stroke="#3a3a3a" stroke-width="0.9"/>
<line x1="476.00" y1="616.50" x2="487.40" y2="616.50" stroke="#3a3a3a" stroke-width="0.9"/>
<line x1="477.30" y1="595.00" x2="477.30" y2="616.00" stroke="#b0b0b0" stroke-width="1.6"/>
<line x1="380.00" y1="483.50" x2="447.00" y2="483.50" stroke="#2a2a2a" stroke-width="0.9"/>
<line x1="412.50" y1="478.00" x2="412.50" y2="530.80" stroke="#2a2a2a" stroke-width="0.9"/>
<line x1="435.50" y1="478.00" x2="435.50" y2="530.80" stroke="#2a2a2a" stroke-width="0.9"/>
<polygon points="412.40,483.50 405.90,485.10 405.90,481.90" fill="#111"/>
<polygon points="435.00,483.50 441.50,481.90 441.50,485.10" fill="#111"/>
<text x="385.36" y="477.20" font-size="17.68" letter-spacing="0.00" fill="#4a4a4a">4</text>
<line x1="337.00" y1="507.00" x2="403.00" y2="549.00" stroke="#2a2a2a" stroke-width="0.9"/>
<polygon points="383.50,536.60 377.16,534.46 378.88,531.76" fill="#111"/>
<polygon points="396.20,544.70 402.54,546.84 400.82,549.54" fill="#111"/>
<text transform="translate(344.6,504.2) rotate(32.7)" font-size="17.2" letter-spacing="0.9" fill="#4a4a4a">ø1.5</text>
<line x1="401.60" y1="715.50" x2="469.40" y2="715.50" stroke="#2a2a2a" stroke-width="0.9"/>
<polygon points="401.60,715.50 408.10,713.90 408.10,717.10" fill="#111"/>
<polygon points="469.40,715.50 462.90,717.10 462.90,713.90" fill="#111"/>
<text x="424.30" y="709.80" font-size="17.39" letter-spacing="1.47" fill="#4a4a4a">12</text>
<line x1="696.50" y1="473.00" x2="696.50" y2="605.10" stroke="#2a2a2a" stroke-width="0.9"/>
<polygon points="696.50,530.80 694.90,524.30 698.10,524.30" fill="#111"/>
<polygon points="696.50,541.20 698.10,547.70 694.90,547.70" fill="#111"/>
<polygon points="696.50,605.10 694.90,598.60 698.10,598.60" fill="#111"/>
<line x1="740.50" y1="530.80" x2="740.50" y2="665.70" stroke="#2a2a2a" stroke-width="0.9"/>
<polygon points="740.50,530.80 742.10,537.30 738.90,537.30" fill="#111"/>
<polygon points="740.50,665.70 738.90,659.20 742.10,659.20" fill="#111"/>
<text transform="translate(690.20,515.40) rotate(-90)" x="0" y="0" font-size="18.70" letter-spacing="0.36" fill="#4a4a4a">1.75</text>
<text transform="translate(690.40,592.16) rotate(-90)" x="0" y="0" font-size="18.12" letter-spacing="1.27" fill="#4a4a4a">11.5</text>
<text transform="translate(736.00,609.59) rotate(-90)" x="0" y="0" font-size="19.71" letter-spacing="0.10" fill="#4a4a4a">24</text>
</svg>
</body></html>
